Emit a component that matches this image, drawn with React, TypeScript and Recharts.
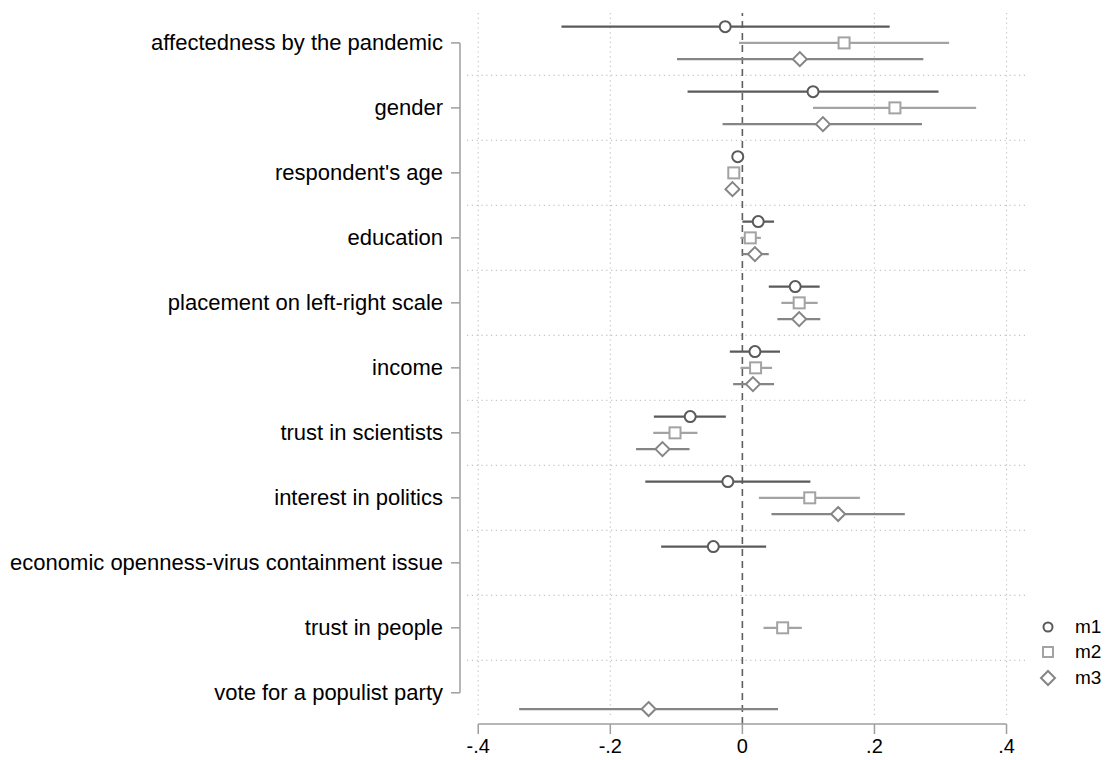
import {
    ScatterChart, Scatter, XAxis, YAxis, ErrorBar, ReferenceLine
} from 'recharts';

const categories = [
    'affectedness by the pandemic',
    'gender',
    "respondent's age",
    'education',
    'placement on left-right scale',
    'income',
    'trust in scientists',
    'interest in politics',
    'economic openness-virus containment issue',
    'trust in people',
    'vote for a populist party'
];

const xTicks = [-0.4, -0.2, 0, 0.2, 0.4];
const xTickLabels = ['-.4', '-.2', '0', '.2', '.4'];

// point estimates and 95% CI bounds, one entry per category (null = not in model)
const m1Coef = [-0.026, 0.107, -0.007, 0.024, 0.080, 0.019, -0.079, -0.022, -0.044, null, null];
const m1Low = [-0.274, -0.083, -0.011, 0.000, 0.040, -0.019, -0.134, -0.147, -0.123, null, null];
const m1High = [0.223, 0.297, -0.003, 0.048, 0.117, 0.057, -0.025, 0.103, 0.036, null, null];

const m2Coef = [0.154, 0.231, -0.013, 0.012, 0.086, 0.020, -0.102, 0.102, null, 0.061, null];
const m2Low = [-0.005, 0.107, -0.017, -0.003, 0.059, -0.003, -0.135, 0.025, null, 0.032, null];
const m2High = [0.313, 0.354, -0.009, 0.028, 0.114, 0.045, -0.068, 0.178, null, 0.090, null];

const m3Coef = [0.087, 0.122, -0.015, 0.019, 0.086, 0.016, -0.121, 0.145, null, null, -0.142];
const m3Low = [-0.099, -0.030, -0.019, 0.000, 0.053, -0.014, -0.161, 0.044, null, null, -0.338];
const m3High = [0.274, 0.272, -0.011, 0.040, 0.118, 0.048, -0.080, 0.246, null, null, 0.054];

const FONT = '"Liberation Sans", Arial, Helvetica, sans-serif';
const AXIS_COLOR = '#9e9e9e';
const GRID_COLOR = '#c4c4c4';

// plot geometry
const PLOT_TOP = 13;
const PLOT_BOTTOM = 724;
const Y_MIN = -0.46;
const Y_MAX = 10.48;
const GRID_END = 10.37;
const ROW_PX = (PLOT_BOTTOM - PLOT_TOP) / (Y_MAX - Y_MIN);

const buildPoints = (coef, low, high, offset) =>
    coef
        .map((c, i) => (c === null ? null : { x: c, y: i + offset, err: [c - low[i], high[i] - c] }))
        .filter(Boolean);

const CircleShape = ({ cx, cy, color, r = 5.5 }) => (
    <circle cx={cx} cy={cy} r={r} fill="#fff" stroke={color} strokeWidth={2} />
);
const SquareShape = ({ cx, cy, color, s = 5.5 }) => (
    <rect x={cx - s} y={cy - s} width={s * 2} height={s * 2} fill="#fff" stroke={color} strokeWidth={2} />
);
const DiamondShape = ({ cx, cy, color, s = 7 }) => (
    <polygon
        points={`${cx},${cy - s} ${cx + s},${cy} ${cx},${cy + s} ${cx - s},${cy}`}
        fill="#fff" stroke={color} strokeWidth={2}
    />
);

const models = [
    { name: 'm1', color: '#5a5a5a', Shape: CircleShape, offset: -0.25, coef: m1Coef, low: m1Low, high: m1High },
    { name: 'm2', color: '#a3a3a3', Shape: SquareShape, offset: 0, coef: m2Coef, low: m2Low, high: m2High },
    { name: 'm3', color: '#858585', Shape: DiamondShape, offset: 0.25, coef: m3Coef, low: m3Low, high: m3High }
];

// left axis: bracket line between first and last category, ticks and labels
const CategoryTick = (props) => {
    const { x, y, payload } = props;
    const idx = payload.value;
    const ax = x - 7;
    return (
        <g>
            {idx < categories.length - 1 && (
                <line x1={ax} y1={y} x2={ax} y2={y + ROW_PX} stroke={AXIS_COLOR} strokeWidth={1.5} />
            )}
            <line x1={ax - 9} y1={y} x2={ax} y2={y} stroke={AXIS_COLOR} strokeWidth={1.5} />
            <text x={ax - 17} y={y} textAnchor="end" dominantBaseline="central"
                  fontSize={22} fontFamily={FONT} fill="#000">
                {categories[idx]}
            </text>
        </g>
    );
};

const App = () => {
    const rowIdx = categories.map((_, i) => i);
    const hGrid = categories.slice(1).map((_, i) => i + 0.5);

    return (
        <div style={{ position: 'relative', width: 1110, height: 760, fontFamily: FONT }}>
            <style>{'body{margin:0}'}</style>
            <ScatterChart
                width={1110}
                height={760}
                margin={{ top: PLOT_TOP, right: 83, left: 0, bottom: 0 }}
            >
                <XAxis
                    type="number"
                    dataKey="x"
                    domain={[-0.417, 0.431]}
                    allowDataOverflow
                    ticks={xTicks}
                    interval={0}
                    tickFormatter={(v) => xTickLabels[xTicks.indexOf(v)]}
                    axisLine={false}
                    tickLine={{ stroke: AXIS_COLOR, strokeWidth: 1.5 }}
                    tickSize={10}
                    tickMargin={5}
                    height={760 - PLOT_BOTTOM}
                    tick={{ fill: '#000', fontSize: 20, fontFamily: FONT }}
                />
                <YAxis
                    type="number"
                    dataKey="y"
                    domain={[Y_MIN, Y_MAX]}
                    allowDataOverflow
                    reversed
                    ticks={rowIdx}
                    interval={0}
                    width={467}
                    axisLine={false}
                    tickLine={false}
                    tickSize={0}
                    tickMargin={0}
                    tick={<CategoryTick />}
                />

                {hGrid.map((v) => (
                    <ReferenceLine key={`h${v}`} y={v} stroke={GRID_COLOR} strokeWidth={1.2}
                                   strokeDasharray="1.2 3.6" ifOverflow="visible" />
                ))}
                {xTicks.filter((t) => t !== 0).map((t) => (
                    <ReferenceLine key={`v${t}`} segment={[{ x: t, y: Y_MIN }, { x: t, y: GRID_END }]}
                                   stroke={GRID_COLOR} strokeWidth={1.2} strokeDasharray="1.2 3.6"
                                   ifOverflow="visible" />
                ))}
                <ReferenceLine x={0} stroke="#5f5f5f" strokeWidth={1.6} strokeDasharray="7 5" ifOverflow="visible" />
                <ReferenceLine segment={[{ x: xTicks[0], y: Y_MAX }, { x: xTicks[xTicks.length - 1], y: Y_MAX }]}
                               stroke={AXIS_COLOR} strokeWidth={1.5} ifOverflow="visible" />

                {models.map((m) => (
                    <Scatter
                        key={m.name}
                        name={m.name}
                        data={buildPoints(m.coef, m.low, m.high, m.offset)}
                        isAnimationActive={false}
                        shape={(p) => <m.Shape cx={p.cx} cy={p.cy} color={m.color} />}
                    >
                        <ErrorBar dataKey="err" direction="x" width={0} stroke={m.color} strokeWidth={2.2}
                                  isAnimationActive={false} />
                    </Scatter>
                ))}
            </ScatterChart>

            {/* legend */}
            <div style={{ position: 'absolute', left: 1038, top: 614 }}>
                {models.map((m) => (
                    <div key={m.name} style={{ display: 'flex', alignItems: 'center', height: 25.5 }}>
                        <svg width={20} height={20}>
                            <m.Shape cx={10} cy={10} color={m.color} r={4.5} s={m.name === 'm3' ? 7 : 5} />
                        </svg>
                        <span style={{ marginLeft: 17, fontSize: 19, color: '#000' }}>{m.name}</span>
                    </div>
                ))}
            </div>
        </div>
    );
};

export default App;
